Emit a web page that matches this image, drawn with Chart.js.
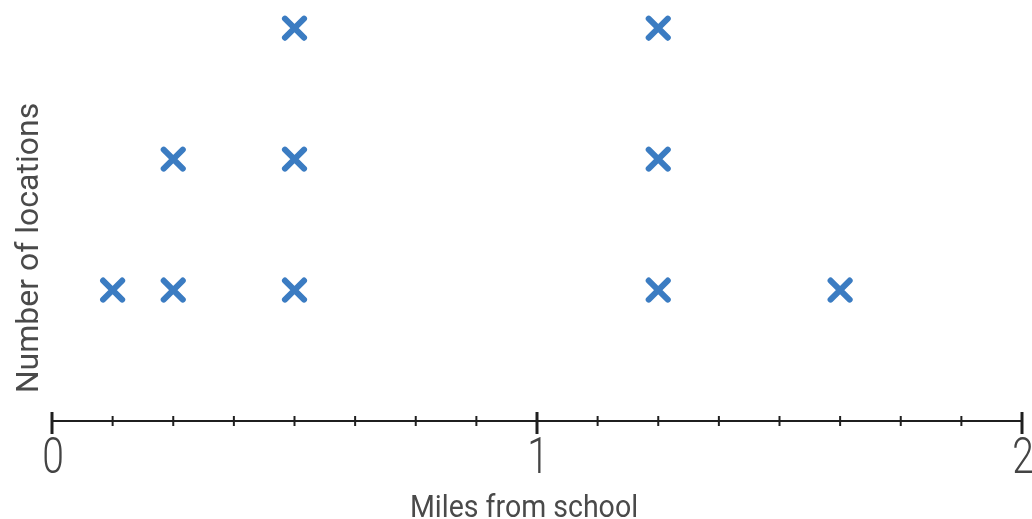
<!DOCTYPE html>
<html>
<head>
<meta charset="utf-8">
<script src="https://cdn.jsdelivr.net/npm/chart.js@4/dist/chart.umd.min.js"></script>
<style>
  html, body { margin: 0; padding: 0; background: #fff; }
  #wrap { width: 1032px; height: 519px; }
</style>
</head>
<body>
<div id="wrap"><canvas id="c" width="1032" height="519"></canvas></div>
<script>
// Distances (miles) and how many locations sit at each distance
const miles = [0.125, 0.25, 0.5, 1.25, 1.625];
const counts = [1, 2, 3, 3, 1];

// Number line labels and spacing
const majorTicks = [0, 1, 2];
const majorLabels = ['0', '1', '2'];
const minorStep = 0.125;
const xMin = 0, xMax = 2;

const xTitle = 'Miles from school';
const yTitle = 'Number of locations';

// One stacked mark per location
const points = [];
miles.forEach((m, i) => {
  for (let k = 1; k <= counts[i]; k++) points.push({ x: m, y: k });
});

const textColor = '#4a4a4a';
const axisColor = '#1f1f1f';

const numberLine = {
  id: 'numberLine',
  beforeDatasetsDraw(chart) {
    const ctx = chart.ctx;
    const xs = chart.scales.x;
    const y0 = chart.scales.y.getPixelForValue(0);
    ctx.save();
    // main line
    ctx.strokeStyle = axisColor;
    ctx.lineWidth = 2;
    ctx.beginPath();
    ctx.moveTo(xs.getPixelForValue(xMin), y0);
    ctx.lineTo(xs.getPixelForValue(xMax), y0);
    ctx.stroke();
    // minor ticks
    ctx.lineWidth = 2;
    for (let v = xMin; v <= xMax + 1e-9; v += minorStep) {
      if (majorTicks.some(t => Math.abs(t - v) < 1e-9)) continue;
      const px = xs.getPixelForValue(v);
      ctx.beginPath();
      ctx.moveTo(px, y0 - 5);
      ctx.lineTo(px, y0 + 5);
      ctx.stroke();
    }
    // major ticks and labels
    ctx.lineWidth = 3;
    majorTicks.forEach((v, i) => {
      const px = xs.getPixelForValue(v);
      ctx.beginPath();
      ctx.moveTo(px, y0 - 9);
      ctx.lineTo(px, y0 + 13);
      ctx.stroke();
      ctx.save();
      ctx.translate(px + 1, y0 + 52);
      ctx.scale(0.78, 1);
      ctx.fillStyle = '#444';
      ctx.font = '300 50px Roboto';
      ctx.textAlign = 'center';
      ctx.textBaseline = 'alphabetic';
      ctx.fillText(majorLabels[i], 0, 0);
      ctx.restore();
    });
    // axis titles
    ctx.save();
    ctx.translate(524, 517);
    ctx.scale(0.92, 1);
    ctx.fillStyle = textColor;
    ctx.font = '400 31px Roboto';
    ctx.textAlign = 'center';
    ctx.textBaseline = 'alphabetic';
    ctx.fillText(xTitle, 0, 0);
    ctx.restore();

    ctx.save();
    ctx.translate(38, 248);
    ctx.rotate(-Math.PI / 2);
    ctx.fillStyle = textColor;
    ctx.font = '400 32px Roboto';
    ctx.textAlign = 'center';
    ctx.textBaseline = 'alphabetic';
    ctx.fillText(yTitle, 0, 0);
    ctx.restore();
    ctx.restore();
    // rounded ends for the cross marks
    ctx.lineCap = 'round';
  },
  afterDatasetsDraw(chart) {
    chart.ctx.lineCap = 'butt';
  }
};

new Chart(document.getElementById('c'), {
  type: 'scatter',
  data: {
    datasets: [{
      data: points,
      pointStyle: 'crossRot',
      pointRadius: 13.5,
      pointHoverRadius: 13.5,
      pointBorderWidth: 6,
      pointHoverBorderWidth: 6,
      borderColor: '#3b7cc2',
      backgroundColor: '#3b7cc2'
    }]
  },
  options: {
    responsive: false,
    animation: false,
    events: [],
    layout: { autoPadding: false, padding: { left: 52, right: 10, top: 2, bottom: 98 } },
    plugins: { legend: { display: false }, tooltip: { enabled: false } },
    scales: {
      x: { type: 'linear', min: xMin, max: xMax, display: false },
      y: { type: 'linear', min: 0, max: 3.2, display: false }
    }
  },
  plugins: [numberLine]
});
</script>
</body>
</html>
